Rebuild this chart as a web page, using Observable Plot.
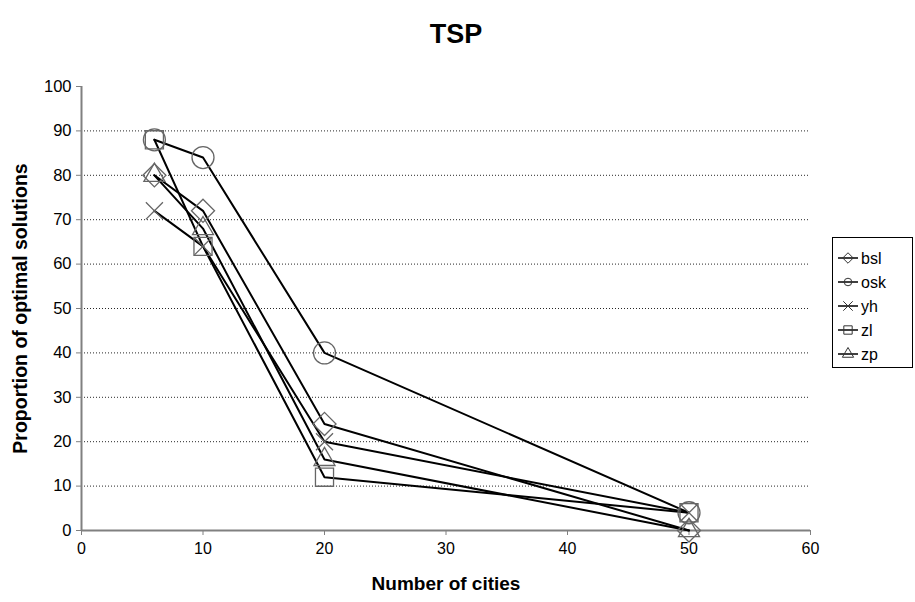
<!DOCTYPE html>
<html><head><meta charset="utf-8">
<script src="https://cdn.jsdelivr.net/npm/d3@7"></script>
<script src="https://cdn.jsdelivr.net/npm/@observablehq/plot@0.6"></script>
<style>
body{margin:0;background:#fff;font-family:"Liberation Sans",Arial,sans-serif;}
#wrap{position:relative;width:915px;height:602px;overflow:hidden;}
#chart{position:absolute;left:0;top:0;}
#legend{position:absolute;left:832px;top:237px;}
</style></head>
<body><div id="wrap"><div id="chart"></div><div id="legend"></div></div>
<script>
// Data
const cities = [6, 10, 20, 50];
const seriesNames = ["bsl", "osk", "yh", "zl", "zp"];
const bsl = [80, 72, 24, 0];
const osk = [88, 84, 40, 4];
const yh  = [72, 64, 20, 4];
const zl  = [88, 64, 12, 4];
const zp  = [80, 68, 16, 0];
const xTicks = [0, 10, 20, 30, 40, 50, 60];
const yTicks = [0, 10, 20, 30, 40, 50, 60, 70, 80, 90, 100];
const gridTicks = [10, 20, 30, 40, 50, 60, 70, 80, 90];

const valuesBySeries = {bsl, osk, yh, zl, zp};
const rows = seriesNames.flatMap(s => cities.map((c, i) => ({series: s, cities: c, value: valuesBySeries[s][i]})));

const symbols = {bsl: d3.symbolDiamond2, osk: d3.symbolCircle, yh: d3.symbolTimes, zl: d3.symbolSquare, zp: d3.symbolTriangle};
const radii = {bsl: 10.4, osk: 11, yh: 7.8, zl: 10.2, zp: 7.8};
const legendSizes = {bsl: 70, osk: 45, yh: 60, zl: 70, zp: 55};

const markerStroke = "#666";
const marks = [
  Plot.gridY(gridTicks, {stroke: "#000", strokeOpacity: 0.85, strokeDasharray: "1,2"}),
  Plot.ruleX([0], {stroke: "#808080", strokeWidth: 2}),
  Plot.ruleY([0], {stroke: "#808080", strokeWidth: 2}),
  Plot.axisX({ticks: xTicks, tickSize: 5, tickPadding: 7, fontSize: 16, label: null, stroke: "#808080", color: "#000"}),
  Plot.axisY({ticks: yTicks, tickSize: 5, tickPadding: 5, fontSize: 16.5, label: null, stroke: "#808080", color: "#000"}),
  Plot.line(rows, {x: "cities", y: "value", z: "series", stroke: "#000", strokeWidth: 2})
];
for (const s of seriesNames) {
  marks.push(Plot.dot(rows.filter(d => d.series === s), {x: "cities", y: "value", symbol: () => symbols[s], r: radii[s], stroke: markerStroke, strokeWidth: 1.3, fill: "none"}));
}
marks.push(
  Plot.text(["TSP"], {frameAnchor: "top", dx: 10, dy: -63, fontSize: 27, fontWeight: "bold", fill: "#000"}),
  Plot.text(["Number of cities"], {frameAnchor: "bottom", dy: 59, fontSize: 19, fontWeight: "bold", fill: "#000"}),
  Plot.text(["Proportion of optimal solutions"], {frameAnchor: "left", textAnchor: "middle", dx: -61, rotate: -90, fontSize: 19.5, fontWeight: "bold", fill: "#000"})
);

const chart = Plot.plot({
  width: 915, height: 602,
  marginLeft: 81, marginRight: 105, marginTop: 86, marginBottom: 72,
  style: {fontFamily: "'Liberation Sans', Arial, sans-serif", background: "#fff", color: "#000"},
  x: {domain: [0, 60]},
  y: {domain: [0, 100]},
  symbol: {type: "identity"},
  marks
});
document.getElementById("chart").append(chart);

// Legend
const lw = 81, lh = 131;
const svg = d3.select("#legend").append("svg").attr("width", lw).attr("height", lh)
  .style("font-family", "'Liberation Sans', Arial, sans-serif");
svg.append("rect").attr("x", 0.5).attr("y", 0.5).attr("width", lw - 1).attr("height", lh - 1)
  .attr("fill", "#fff").attr("stroke", "#000");
seriesNames.forEach((s, i) => {
  const y = 21 + i * 24;
  const g = svg.append("g").attr("transform", `translate(0,${y})`);
  g.append("line").attr("x1", 6).attr("x2", 26).attr("y1", 0).attr("y2", 0).attr("stroke", "#000").attr("stroke-width", 1.5);
  g.append("path").attr("d", d3.symbol(symbols[s], legendSizes[s])()).attr("transform", "translate(16,0)")
    .attr("fill", "none").attr("stroke", "#333").attr("stroke-width", 1);
  g.append("text").attr("x", 29).attr("y", 0).attr("dy", "0.35em").attr("font-size", 16).text(s);
});
</script>
</body></html>
